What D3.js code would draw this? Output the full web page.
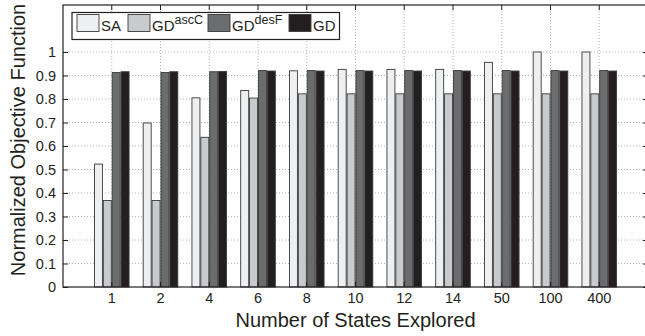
<!DOCTYPE html>
<html>
<head>
<meta charset="utf-8">
<script src="https://cdn.jsdelivr.net/npm/d3@7"></script>
<style>
  html, body { margin: 0; padding: 0; background: #fff; }
  svg { display: block; font-family: "Liberation Sans", Arial, Helvetica, sans-serif; }
</style>
</head>
<body>
<svg id="chart" width="645" height="336"></svg>
<script>
// Number of states explored (x categories)
const categories = ["1", "2", "4", "6", "8", "10", "12", "14", "50", "100", "400"];

// Normalized objective function per method
const saValues    = [0.523, 0.698, 0.805, 0.836, 0.920, 0.926, 0.926, 0.926, 0.956, 1.000, 1.000];
const ascCValues  = [0.368, 0.368, 0.637, 0.804, 0.822, 0.822, 0.822, 0.822, 0.822, 0.822, 0.822];
const desFValues  = [0.913, 0.913, 0.916, 0.921, 0.921, 0.921, 0.921, 0.921, 0.921, 0.921, 0.921];
const gdValues    = [0.916, 0.916, 0.917, 0.919, 0.919, 0.919, 0.919, 0.919, 0.919, 0.919, 0.919];

const seriesNames = ["SA", "GDascC", "GDdesF", "GD"];
const seriesFills = ["#eeeff0", "#c9cacb", "#6b6c6e", "#231f20"];
const yTicks = [0, 0.1, 0.2, 0.3, 0.4, 0.5, 0.6, 0.7, 0.8, 0.9, 1];

const series = [saValues, ascCValues, desFValues, gdValues];

const svg = d3.select("#chart");
const plotL = 63, plotR = 648, plotT = 5, plotB = 287;

// Continuous x position (category k sits at k+1 on a 0..12 axis)
const xLin = d3.scaleLinear().domain([0, categories.length + 1]).range([plotL, plotR]);
const y = d3.scaleLinear().domain([0, 1.2]).range([plotB, plotT]);

const x0 = d3.scaleBand().domain(categories)
  .range([xLin(0.5), xLin(categories.length + 0.5)]).padding(0);
const bw = x0.bandwidth();
const groupW = bw * 0.71;
const x1 = d3.scaleBand().domain(seriesNames)
  .range([(bw - groupW) / 2, (bw + groupW) / 2]).paddingInner(0.1);

const ink = "#231f20";

// Dotted grid
const grid = svg.append("g");
yTicks.filter(t => t > 0).forEach(t => {
  grid.append("line")
    .attr("x1", plotL).attr("x2", plotR)
    .attr("y1", y(t)).attr("y2", y(t))
    .attr("stroke", "#a0a0a0").attr("stroke-width", 0.8)
    .attr("stroke-dasharray", "1,2");
});
categories.forEach(c => {
  const cx = x0(c) + bw / 2;
  grid.append("line")
    .attr("x1", cx).attr("x2", cx)
    .attr("y1", plotT).attr("y2", plotB)
    .attr("stroke", "#a0a0a0").attr("stroke-width", 0.8)
    .attr("stroke-dasharray", "1,2");
});

// Bars
const bars = svg.append("g");
series.forEach((vals, si) => {
  bars.selectAll(null)
    .data(vals.map((v, i) => ({ cat: categories[i], v })))
    .enter().append("rect")
    .attr("x", d => x0(d.cat) + x1(seriesNames[si]))
    .attr("width", x1.bandwidth())
    .attr("y", d => y(d.v))
    .attr("height", d => y(0) - y(d.v))
    .attr("fill", seriesFills[si])
    .attr("stroke", "#3a3a3a")
    .attr("stroke-width", 0.9);
});

// Axes (box with inward ticks on all sides)
const xAxisB = d3.axisBottom(x0).tickSizeInner(-5).tickSizeOuter(0).tickPadding(6);
const xAxisT = d3.axisTop(x0).tickSizeInner(-5).tickSizeOuter(0).tickFormat("");
const yAxisL = d3.axisLeft(y).tickValues(yTicks).tickSizeInner(-5).tickSizeOuter(0)
  .tickPadding(7).tickFormat(d => d === 0 ? "0" : d === 1 ? "1" : d3.format(".1f")(d));
const yAxisR = d3.axisRight(y).tickValues(yTicks).tickSizeInner(-5).tickSizeOuter(0).tickFormat("");

function styleAxis(g) {
  g.select(".domain").remove();
  g.selectAll("line").attr("stroke", ink).attr("stroke-width", 1);
  g.selectAll("text").attr("fill", ink).style("font-size", "14.5px")
    .style("font-family", "'Liberation Sans', Arial, sans-serif");
}

svg.append("g").attr("transform", `translate(0,${plotB})`).call(xAxisB).call(styleAxis);
svg.append("g").attr("transform", `translate(0,${plotT})`).call(xAxisT).call(styleAxis);
svg.append("g").attr("transform", `translate(${plotL},0)`).call(yAxisL).call(styleAxis);
svg.append("g").attr("transform", `translate(${plotR},0)`).call(yAxisR).call(styleAxis);

svg.append("rect")
  .attr("x", plotL).attr("y", plotT)
  .attr("width", plotR - plotL).attr("height", plotB - plotT)
  .attr("fill", "none").attr("stroke", ink).attr("stroke-width", 1.2);

// Axis titles
svg.append("text")
  .attr("x", xLin(6)).attr("y", 327)
  .attr("text-anchor", "middle")
  .attr("fill", ink).style("font-size", "20px")
  .text("Number of States Explored");

svg.append("text")
  .attr("transform", `translate(25,${(plotT + plotB) / 2 - 6}) rotate(-90)`)
  .attr("text-anchor", "middle")
  .attr("fill", ink).style("font-size", "20px")
  .text("Normalized Objective Function");

// Legend
const legend = svg.append("g");
legend.append("rect")
  .attr("x", 72).attr("y", 12.5).attr("width", 267.5).attr("height", 27)
  .attr("fill", "#fff").attr("stroke", ink).attr("stroke-width", 1.2);

const legendItems = [
  { x: 77, base: "SA", sup: "" },
  { x: 128, base: "GD", sup: "ascC" },
  { x: 208, base: "GD", sup: "desF" },
  { x: 289, base: "GD", sup: "" }
];
legendItems.forEach((it, i) => {
  legend.append("rect")
    .attr("x", it.x).attr("y", 14.5).attr("width", 22).attr("height", 17)
    .attr("fill", seriesFills[i]).attr("stroke", "#3a3a3a").attr("stroke-width", 0.9);
  const t = legend.append("text")
    .attr("x", it.x + 24).attr("y", 30.5)
    .attr("fill", ink).style("font-size", "15px");
  t.append("tspan").text(it.base);
  if (it.sup) {
    t.append("tspan").attr("dy", -6.5).style("font-size", "12.5px").text(it.sup);
  }
});
</script>
</body>
</html>
